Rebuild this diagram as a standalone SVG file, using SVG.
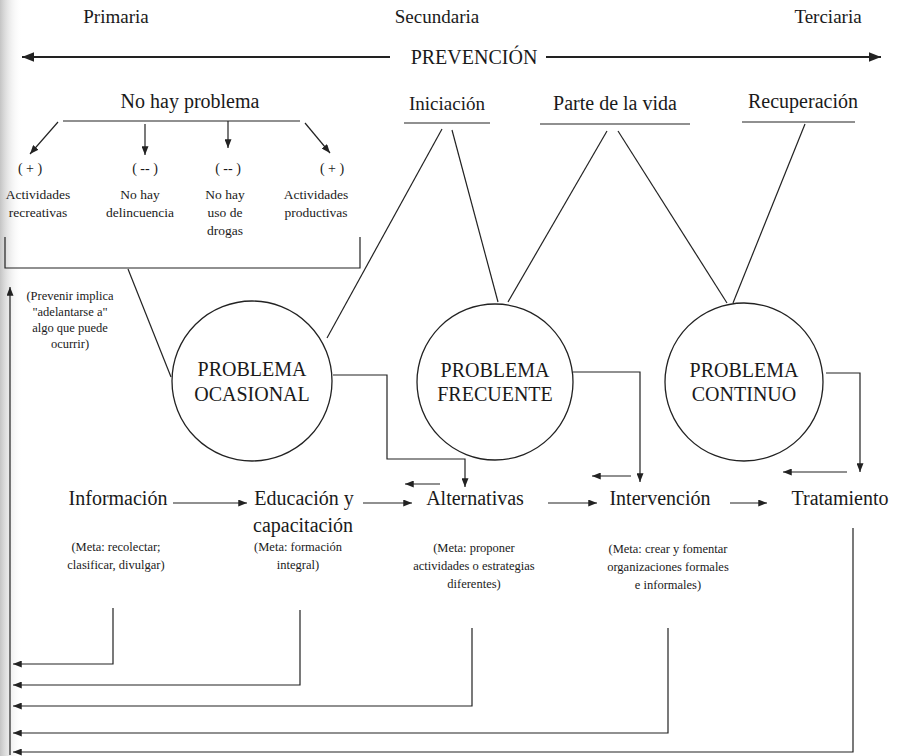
<svg xmlns="http://www.w3.org/2000/svg" width="900" height="756" viewBox="0 0 900 756">
<defs>
<linearGradient id="scan" x1="0" x2="1" y1="0" y2="0">
<stop offset="0" stop-color="#c4c4c4"/>
<stop offset="1" stop-color="#ffffff" stop-opacity="0"/>
</linearGradient>
<marker id="ah" viewBox="0 0 10 8" refX="10" refY="4" markerWidth="9" markerHeight="7" markerUnits="userSpaceOnUse" orient="auto">
<path d="M0,0 L10,4 L0,8 z" fill="#222"/>
</marker>
<marker id="ahb" viewBox="0 0 10 8" refX="10" refY="4" markerWidth="12" markerHeight="10" markerUnits="userSpaceOnUse" orient="auto">
<path d="M0,0 L10,4 L0,8 z" fill="#222"/>
</marker>
</defs>
<style>
text{font-family:"Liberation Serif","Times New Roman",serif;fill:#1a1a1a;text-anchor:middle}
.h{font-size:19px}
.l{font-size:20px}
.s{font-size:13.5px}
.xs{font-size:12.5px}
.m{font-size:14px}
.c{fill:#fff;stroke:#222;stroke-width:1.3}
.ln{fill:none;stroke:#222;stroke-width:1.2}
.ar{fill:none;stroke:#222;stroke-width:1.2;marker-end:url(#ah)}
.big{fill:none;stroke:#222;stroke-width:2;marker-end:url(#ahb)}
</style>
<rect width="900" height="756" fill="#fff"/>
<rect x="0" y="0" width="22" height="756" fill="url(#scan)"/>

<g id="niveles">
<text class="h" x="116" y="23">Primaria</text>
<text class="h" x="437" y="23">Secundaria</text>
<text class="h" x="828" y="23">Terciaria</text>
</g>
<g id="prevencion">
<text class="l" x="474" y="64">PREVENCIÓN</text>
</g>

<g id="no-hay-problema">
<text class="l" x="190" y="108">No hay problema</text>
</g>
<g id="iniciacion">
<text class="h" x="447" y="110">Iniciación</text>
<line class="ln" x1="404" y1="123" x2="490" y2="123"/>
</g>
<g id="parte-de-la-vida">
<text class="l" x="615" y="110">Parte de la vida</text>
<line class="ln" x1="540" y1="124" x2="690" y2="124"/>
</g>
<g id="recuperacion">
<text class="l" x="803" y="108">Recuperación</text>
<line class="ln" x1="742" y1="122" x2="855" y2="122"/>
</g>

<g id="recreativas">
<text class="m" x="30" y="173">( + )</text>
<text class="s" x="38" y="199">Actividades</text>
<text class="s" x="38" y="217">recreativas</text>
</g>
<g id="delincuencia">
<text class="m" x="145" y="173">( -- )</text>
<text class="s" x="140" y="199">No hay</text>
<text class="s" x="140" y="217">delincuencia</text>
</g>
<g id="drogas">
<text class="m" x="228" y="173">( -- )</text>
<text class="s" x="225" y="199">No hay</text>
<text class="s" x="225" y="217">uso de</text>
<text class="s" x="225" y="235">drogas</text>
</g>
<g id="productivas">
<text class="m" x="332" y="173">( + )</text>
<text class="s" x="316" y="199">Actividades</text>
<text class="s" x="316" y="217">productivas</text>
</g>

<g id="nota-prevenir">
<text class="xs" x="70" y="300">(Prevenir implica</text>
<text class="xs" x="70" y="316">"adelantarse a"</text>
<text class="xs" x="70" y="332">algo que puede</text>
<text class="xs" x="70" y="348">ocurrir)</text>
</g>

<g id="connectors">
<line class="big" x1="390" y1="57" x2="22" y2="57"/>
<line class="big" x1="546" y1="57" x2="881" y2="57"/>
<line class="ln" x1="63" y1="121" x2="300" y2="121"/>
<line class="ar" x1="58" y1="122" x2="30" y2="154"/>
<line class="ar" x1="145" y1="124" x2="145" y2="155"/>
<line class="ar" x1="228" y1="121" x2="228" y2="148"/>
<line class="ar" x1="305" y1="123" x2="330" y2="153"/>
<path class="ln" d="M5,237 V268 H360 V237"/>
<line class="ln" x1="128" y1="269" x2="171" y2="377"/>
<line class="ln" x1="442" y1="129" x2="327" y2="338"/>
<line class="ln" x1="452" y1="130" x2="498" y2="302"/>
<line class="ln" x1="607" y1="131" x2="508" y2="302"/>
<line class="ln" x1="618" y1="131" x2="727" y2="303"/>
<line class="ln" x1="805" y1="124" x2="733" y2="303"/>
<path class="ar" d="M333,375 H387 V459 H465 V487"/>
<line class="ar" x1="440" y1="484" x2="405" y2="484"/>
<path class="ar" d="M573,372 H640 V482"/>
<line class="ar" x1="631" y1="476" x2="592" y2="476"/>
<path class="ar" d="M826,373 H860 V472"/>
<line class="ar" x1="847" y1="472" x2="783" y2="472"/>
<line class="ar" x1="173" y1="503" x2="247" y2="503"/>
<line class="ar" x1="363" y1="503" x2="412" y2="503"/>
<line class="ar" x1="548" y1="503" x2="597" y2="503"/>
<line class="ar" x1="730" y1="503" x2="767" y2="503"/>
<path class="ar" d="M113,608 V664 H13"/>
<path class="ar" d="M300,610 V685 H13"/>
<path class="ar" d="M472,628 V706 H13"/>
<path class="ar" d="M668,628 V733 H13"/>
<path class="ar" d="M853,528 V752 H13"/>
<line class="ar" x1="10" y1="755" x2="10" y2="287"/>
</g>

<g id="problema-ocasional">
<circle class="c" cx="252" cy="381" r="80"/>
<text class="l" x="252" y="376">PROBLEMA</text>
<text class="l" x="252" y="401">OCASIONAL</text>
</g>
<g id="problema-frecuente">
<circle class="c" cx="495" cy="382" r="78"/>
<text class="l" x="495" y="377">PROBLEMA</text>
<text class="l" x="495" y="401">FRECUENTE</text>
</g>
<g id="problema-continuo">
<circle class="c" cx="744" cy="382" r="79"/>
<text class="l" x="744" y="377">PROBLEMA</text>
<text class="l" x="744" y="401">CONTINUO</text>
</g>

<g id="informacion">
<text class="l" x="118" y="505">Información</text>
<text class="xs" x="116" y="551">(Meta: recolectar;</text>
<text class="xs" x="116" y="569">clasificar, divulgar)</text>
</g>
<g id="educacion">
<text class="l" x="304" y="505">Educación y</text>
<text class="l" x="303" y="532">capacitación</text>
<text class="xs" x="298" y="551">(Meta: formación</text>
<text class="xs" x="298" y="569">integral)</text>
</g>
<g id="alternativas">
<text class="l" x="475" y="505">Alternativas</text>
<text class="xs" x="474" y="552">(Meta: proponer</text>
<text class="xs" x="474" y="570">actividades o estrategias</text>
<text class="xs" x="474" y="588">diferentes)</text>
</g>
<g id="intervencion">
<text class="l" x="660" y="505">Intervención</text>
<text class="xs" x="668" y="553">(Meta: crear y fomentar</text>
<text class="xs" x="668" y="571">organizaciones formales</text>
<text class="xs" x="668" y="589">e informales)</text>
</g>
<g id="tratamiento">
<text class="l" x="840" y="505">Tratamiento</text>
</g>
</svg>
